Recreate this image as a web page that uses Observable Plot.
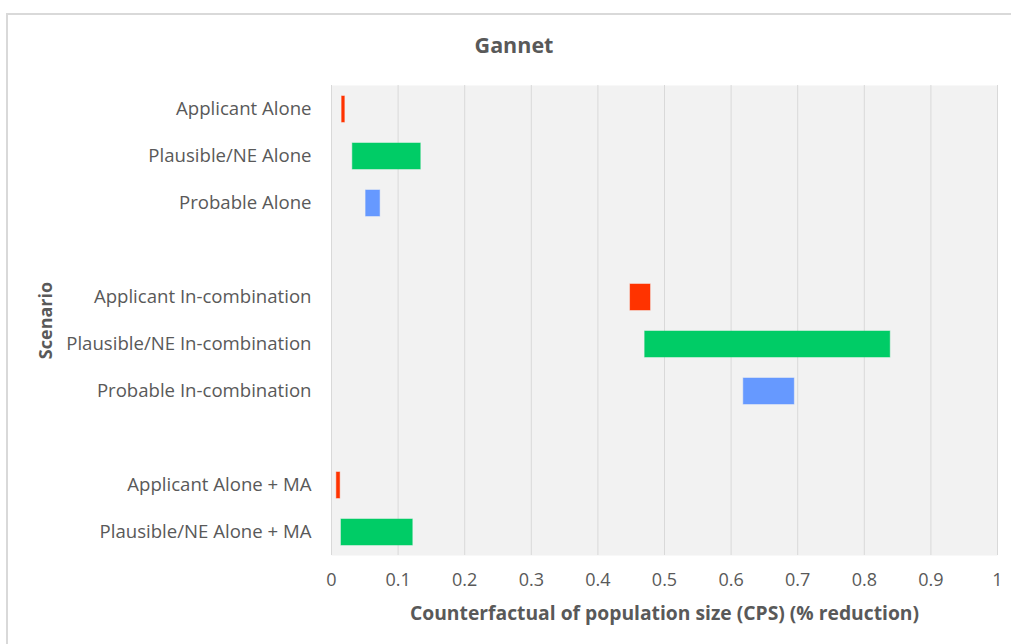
<!DOCTYPE html>
<html>
<head>
<meta charset="utf-8">
<script src="https://cdn.jsdelivr.net/npm/d3@7"></script>
<script src="https://cdn.jsdelivr.net/npm/@observablehq/plot@0.6"></script>
<style>
  html, body { margin: 0; padding: 0; background: #fff; width: 1011px; height: 644px; overflow: hidden; }
  #frame { position: absolute; left: 6px; top: 13px; width: 1100px; height: 700px; border: 2px solid #d9d9d9; box-sizing: border-box; }
  #title { position: absolute; left: 0; top: 30px; width: 1028px; text-align: center; font-family: "Open Sans", sans-serif; font-weight: bold; font-size: 21.5px; color: #595959; line-height: 30px; }
  #chart { position: absolute; left: 0; top: 70px; }
</style>
</head>
<body>
<div id="frame"></div>
<div id="title">Gannet</div>
<div id="chart"></div>
<script>
const categories = [
  "Applicant Alone",
  "Plausible/NE Alone",
  "Probable Alone",
  "gap1",
  "Applicant In-combination",
  "Plausible/NE In-combination",
  "Probable In-combination",
  "gap2",
  "Applicant Alone + MA",
  "Plausible/NE Alone + MA"
];
const scenarioType = ["Applicant", "Plausible", "Probable", null, "Applicant", "Plausible", "Probable", null, "Applicant", "Plausible"];
const lowValues  = [0.016, 0.032, 0.052, null, 0.449, 0.471, 0.619, null, 0.008, 0.015];
const highValues = [0.020, 0.134, 0.073, null, 0.479, 0.839, 0.695, null, 0.013, 0.122];
const xTicks = [0, 0.1, 0.2, 0.3, 0.4, 0.5, 0.6, 0.7, 0.8, 0.9, 1];
const typeNames = ["Applicant", "Plausible", "Probable"];
const typeColors = ["#ff3300", "#00cc66", "#6699ff"];
const xLabel = ["Counterfactual of population size (CPS) (% reduction)"];
const yLabel = ["Scenario"];

const data = categories.map((c, i) => ({
  scenario: c, type: scenarioType[i], low: lowValues[i], high: highValues[i]
})).filter(d => d.type !== null);

const chart = Plot.plot({
  width: 1011,
  height: 559,
  marginLeft: 331,
  marginRight: 14,
  marginTop: 15,
  marginBottom: 74,
  style: { fontFamily: "Open Sans, sans-serif", fontSize: "16px", color: "#595959", background: "transparent" },
  x: { domain: [0, 1] },
  y: { domain: categories, paddingInner: 0.455, paddingOuter: 0.2275 },
  color: { domain: typeNames, range: typeColors },
  marks: [
    Plot.frame({ fill: "#f2f2f2", stroke: null }),
    Plot.gridX(xTicks, { stroke: "#d9d9d9", strokeOpacity: 1, strokeWidth: 1 }),
    Plot.barX(data, { x1: "low", x2: "high", y: "scenario", fill: "type", stroke: "type", strokeOpacity: 0.5, strokeWidth: 1 }),
    Plot.axisX({ ticks: xTicks, tickSize: 0, tickPadding: 18, label: null, fill: "#595959", fontSize: 18,
      tickFormat: d => `${d}` }),
    Plot.axisY({ tickSize: 0, tickPadding: 20, label: null, fill: "#595959", fontSize: 18.6,
      tickFormat: d => d.startsWith("gap") ? "" : d }),
    Plot.text(xLabel, { frameAnchor: "bottom", textAnchor: "middle", lineAnchor: "middle", dy: 58, fontWeight: "bold", fontSize: 19.3, fill: "#595959" }),
    Plot.text(yLabel, { frameAnchor: "left", textAnchor: "middle", lineAnchor: "middle", dx: -285, rotate: -90, fontWeight: "bold", fontSize: 18, fill: "#595959" })
  ]
});
document.getElementById("chart").appendChild(chart);
</script>
</body>
</html>
